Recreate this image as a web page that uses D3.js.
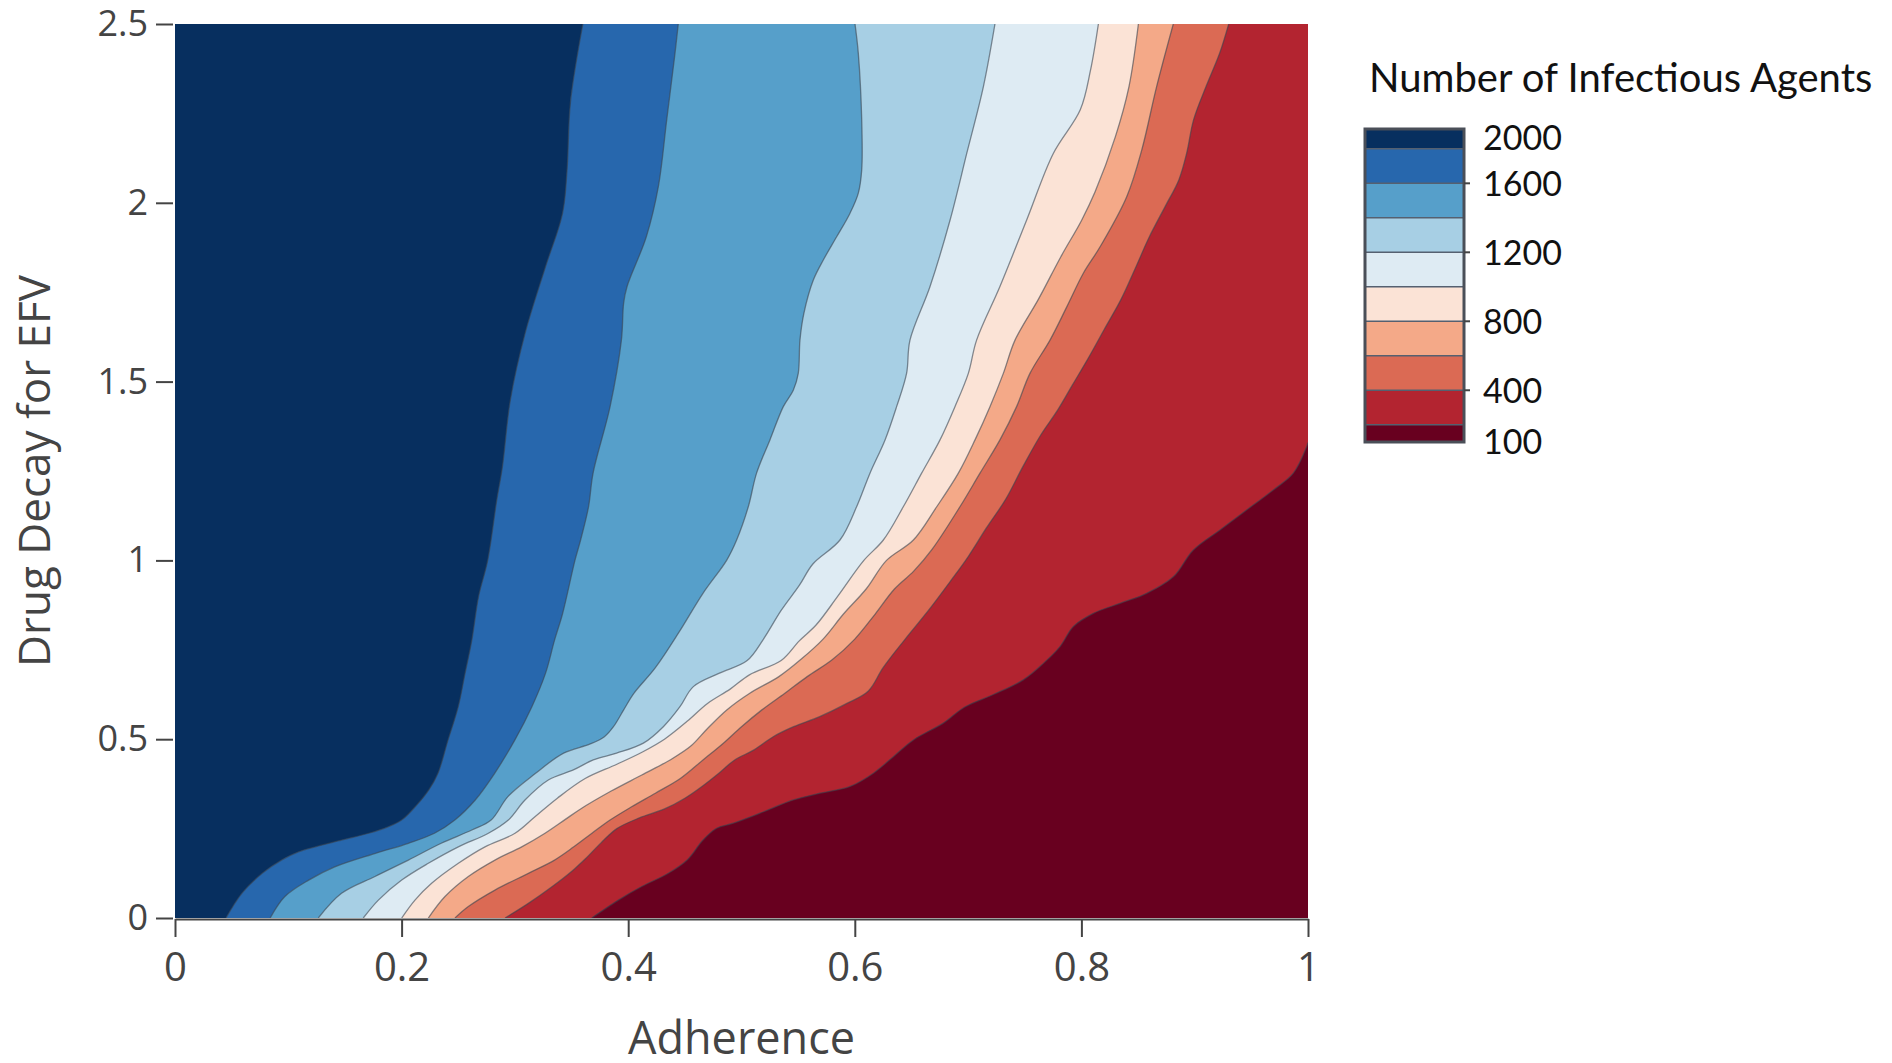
<!DOCTYPE html>
<html>
<head>
<meta charset="utf-8">
<title>Number of Infectious Agents</title>
<script src="https://cdn.jsdelivr.net/npm/d3@7/dist/d3.min.js"></script>
<style>
  body { margin: 0; background: #fff; }
  svg { display: block; }
</style>
</head>
<body>
<svg id="chart" width="1892" height="1063"></svg>
<script>
// Contour levels (number of infectious agents), highest first
const levels = [1800, 1600, 1400, 1200, 1000, 800, 600, 400, 200];

// Band colours: the band above the highest level first, then the band below each level
const bandColors = ['#072f5f', '#2767ad', '#569fca', '#a7cfe4', '#deebf3',
                    '#fbe3d6', '#f4a988', '#db6a54', '#b32430', '#68001f'];

// Each contour traced as [adherence, drug decay] points, from the bottom edge upward
const contour1800 = [[0.045,0],[0.059,0.069],[0.077,0.125],[0.094,0.162],[0.109,0.185],[0.124,0.199],[0.147,0.218],[0.171,0.237],[0.188,0.255],[0.200,0.274],[0.212,0.311],[0.224,0.358],[0.232,0.404],[0.241,0.498],[0.250,0.591],[0.256,0.684],[0.262,0.777],[0.268,0.90],[0.276,1.0],[0.284,1.169],[0.289,1.262],[0.296,1.449],[0.309,1.635],[0.327,1.821],[0.342,1.97],[0.346,2.09],[0.349,2.28],[0.360,2.5]];
const contour1600 = [[0.084,0],[0.097,0.060],[0.118,0.106],[0.141,0.143],[0.177,0.181],[0.206,0.209],[0.229,0.237],[0.247,0.274],[0.265,0.330],[0.282,0.404],[0.300,0.498],[0.315,0.591],[0.327,0.684],[0.335,0.777],[0.342,0.85],[0.353,1.0],[0.358,1.057],[0.365,1.15],[0.369,1.244],[0.384,1.43],[0.394,1.616],[0.396,1.72],[0.399,1.766],[0.416,1.905],[0.4266,2.045],[0.434,2.232],[0.4413,2.418],[0.4442,2.5]];
const contour1400 = [[0.1265,0],[0.147,0.069],[0.1765,0.116],[0.206,0.162],[0.235,0.209],[0.262,0.246],[0.279,0.274],[0.294,0.34],[0.318,0.404],[0.343,0.461],[0.366,0.486],[0.379,0.507],[0.387,0.535],[0.396,0.582],[0.405,0.628],[0.424,0.70],[0.445,0.8],[0.466,0.908],[0.487,1.001],[0.4957,1.057],[0.506,1.15],[0.5133,1.244],[0.5251,1.337],[0.5369,1.43],[0.5457,1.476],[0.5501,1.523],[0.5516,1.616],[0.555,1.69],[0.5634,1.784],[0.5722,1.84],[0.584,1.905],[0.5958,1.971],[0.6031,2.027],[0.6061,2.092],[0.6061,2.232],[0.6031,2.418],[0.6002,2.5]];
const contour1200 = [[0.1662,0],[0.1795,0.050],[0.2001,0.106],[0.2236,0.153],[0.2501,0.199],[0.2766,0.237],[0.2942,0.274],[0.3089,0.330],[0.3295,0.386],[0.3516,0.414],[0.3692,0.442],[0.3898,0.461],[0.4134,0.489],[0.431,0.535],[0.4457,0.591],[0.4575,0.647],[0.48,0.684],[0.505,0.72],[0.519,0.778],[0.535,0.86],[0.551,0.93],[0.563,0.99],[0.5869,1.057],[0.6016,1.15],[0.6134,1.244],[0.6267,1.337],[0.6369,1.43],[0.6457,1.523],[0.6487,1.616],[0.6664,1.766],[0.6841,1.952],[0.6988,2.138],[0.7135,2.325],[0.7237,2.5]];
const contour1000 = [[0.2001,0],[0.2118,0.05],[0.2265,0.097],[0.2501,0.153],[0.2736,0.199],[0.3001,0.237],[0.3177,0.283],[0.3375,0.335],[0.362,0.39],[0.39,0.43],[0.413,0.465],[0.432,0.5],[0.452,0.55],[0.47,0.6],[0.49,0.64],[0.507,0.68],[0.535,0.72],[0.551,0.775],[0.566,0.82],[0.585,0.9],[0.608,1.0],[0.6252,1.057],[0.6428,1.15],[0.659,1.244],[0.6752,1.337],[0.6884,1.43],[0.7002,1.523],[0.7075,1.616],[0.7281,1.766],[0.7517,1.952],[0.7752,2.138],[0.799,2.26],[0.808,2.37],[0.815,2.5]];
const contour800 = [[0.2236,0],[0.2383,0.06],[0.2589,0.116],[0.2824,0.162],[0.306,0.199],[0.3266,0.237],[0.3442,0.275],[0.358,0.305],[0.385,0.355],[0.412,0.4],[0.437,0.442],[0.455,0.48],[0.47,0.53],[0.487,0.582],[0.507,0.628],[0.533,0.675],[0.552,0.722],[0.572,0.78],[0.59,0.85],[0.61,0.92],[0.628,1.0],[0.6517,1.057],[0.6723,1.15],[0.6914,1.244],[0.7061,1.337],[0.7193,1.43],[0.7311,1.523],[0.7414,1.616],[0.762,1.73],[0.782,1.85],[0.80,1.95],[0.812,2.03],[0.83,2.185],[0.842,2.325],[0.8503,2.5]];
const contour600 = [[0.2471,0],[0.2589,0.032],[0.2824,0.078],[0.3119,0.125],[0.335,0.162],[0.352,0.199],[0.368,0.237],[0.384,0.274],[0.403,0.311],[0.424,0.349],[0.446,0.39],[0.466,0.442],[0.484,0.489],[0.5,0.535],[0.518,0.582],[0.538,0.628],[0.558,0.675],[0.58,0.722],[0.6,0.78],[0.618,0.85],[0.635,0.92],[0.652,0.97],[0.668,1.03],[0.6928,1.15],[0.7105,1.244],[0.7281,1.337],[0.7428,1.43],[0.7546,1.523],[0.7723,1.616],[0.7871,1.709],[0.8017,1.803],[0.8165,1.877],[0.84,2.017],[0.8533,2.148],[0.8664,2.325],[0.8811,2.5]];
const contour400 = [[0.2913,0],[0.3119,0.041],[0.333,0.088],[0.35,0.13],[0.362,0.165],[0.376,0.21],[0.39,0.25],[0.41,0.28],[0.432,0.305],[0.45,0.335],[0.466,0.37],[0.48,0.405],[0.494,0.442],[0.511,0.47],[0.528,0.507],[0.546,0.535],[0.569,0.563],[0.593,0.6],[0.612,0.635],[0.625,0.7],[0.644,0.778],[0.665,0.86],[0.684,0.94],[0.7,1.01],[0.716,1.09],[0.733,1.17],[0.748,1.26],[0.764,1.35],[0.779,1.42],[0.792,1.49],[0.806,1.565],[0.82,1.645],[0.835,1.73],[0.848,1.82],[0.86,1.905],[0.874,1.99],[0.886,2.064],[0.893,2.14],[0.899,2.232],[0.91,2.325],[0.922,2.418],[0.93,2.5]];
const contour200 = [[0.3678,0],[0.3913,0.05],[0.4119,0.088],[0.4354,0.125],[0.452,0.162],[0.466,0.218],[0.478,0.251],[0.4927,0.265],[0.5163,0.293],[0.5457,0.33],[0.5692,0.349],[0.5958,0.368],[0.6164,0.405],[0.634,0.451],[0.6517,0.498],[0.6781,0.545],[0.697,0.59],[0.7223,0.625],[0.7487,0.666],[0.7664,0.712],[0.7811,0.759],[0.7929,0.815],[0.8105,0.852],[0.8341,0.88],[0.8576,0.908],[0.8811,0.954],[0.8988,1.029],[0.9223,1.085],[0.9458,1.141],[0.9694,1.197],[0.987,1.244],[0.9988,1.318],[1.0,1.33]];

const contours = [contour1800, contour1600, contour1400, contour1200, contour1000,
                  contour800, contour600, contour400, contour200];

// Axis ticks and colour bar labels
const xTicks = [0, 0.2, 0.4, 0.6, 0.8, 1];
const yTicks = [0, 0.5, 1, 1.5, 2, 2.5];
const legendLabels = [2000, 1600, 1200, 800, 400, 100];
const legendRange = [100, 1915];

const svg = d3.select('#chart');
const axisFont = '"Open Sans", "DejaVu Sans", sans-serif';
const legendFont = 'Lato, "Open Sans", sans-serif';

const x = d3.scaleLinear().domain([0, 1]).range([175, 1308]);
const y = d3.scaleLinear().domain([0, 2.5]).range([918, 24]);

// Plot area clip
svg.append('defs').append('clipPath').attr('id', 'plot-clip')
  .append('rect')
  .attr('x', x(0)).attr('y', y(2.5))
  .attr('width', x(1) - x(0)).attr('height', y(0) - y(2.5));

const plot = svg.append('g').attr('clip-path', 'url(#plot-clip)');

// Highest band fills the whole area first
plot.append('rect')
  .attr('x', x(0)).attr('y', y(2.5))
  .attr('width', x(1) - x(0)).attr('height', y(0) - y(2.5))
  .attr('fill', bandColors[0]);

const curve = d3.line()
  .x(d => x(d[0]))
  .y(d => y(d[1]))
  .curve(d3.curveCatmullRom.alpha(0.5));

// Region below a level: the contour, then round the lower-right corner of the plot
function regionPath(pts) {
  const last = pts[pts.length - 1];
  const tail = [];
  if (last[1] >= 2.5) tail.push([1, 2.5]);
  tail.push([1, 0]);
  return curve(pts) + tail.map(p => `L${x(p[0])},${y(p[1])}`).join('') + 'Z';
}

plot.selectAll('path.band')
  .data(contours)
  .join('path')
  .attr('class', 'band')
  .attr('d', regionPath)
  .attr('fill', (d, i) => bandColors[i + 1]);

plot.selectAll('path.contour-line')
  .data(contours)
  .join('path')
  .attr('class', 'contour-line')
  .attr('d', curve)
  .attr('fill', 'none')
  .attr('stroke', '#3a4450')
  .attr('stroke-opacity', 0.6)
  .attr('stroke-width', 1.3);

// Axes
const xAxis = svg.append('g')
  .attr('transform', `translate(0,${y(0) + 1})`)
  .call(d3.axisBottom(x).tickValues(xTicks).tickFormat(d3.format('~g'))
        .tickSize(18).tickSizeOuter(0).tickPadding(16));
xAxis.select('.domain').attr('stroke', '#444').attr('stroke-width', 2);
xAxis.selectAll('.tick line').attr('stroke', '#444').attr('stroke-width', 2);
xAxis.selectAll('.tick text')
  .attr('fill', '#444').style('font-family', axisFont).style('font-size', '40px');

const yAxis = svg.append('g')
  .attr('transform', `translate(${x(0) - 2},0)`)
  .call(d3.axisLeft(y).tickValues(yTicks).tickFormat(d3.format('~g'))
        .tickSize(17).tickPadding(8));
yAxis.select('.domain').remove();
yAxis.selectAll('.tick line').attr('stroke', '#444').attr('stroke-width', 2);
yAxis.selectAll('.tick text')
  .attr('fill', '#444').style('font-family', axisFont).style('font-size', '36px');

// Axis titles
svg.append('text')
  .attr('x', (x(0) + x(1)) / 2).attr('y', 1054)
  .attr('text-anchor', 'middle')
  .attr('fill', '#444')
  .style('font-family', axisFont).style('font-size', '45px')
  .text('Adherence');

svg.append('text')
  .attr('transform', `translate(50,${(y(0) + y(2.5)) / 2}) rotate(-90)`)
  .attr('text-anchor', 'middle')
  .attr('fill', '#444')
  .style('font-family', axisFont).style('font-size', '44px')
  .text('Drug Decay for EFV');

// Colour bar
const cb = svg.append('g');
const cbX = 1365, cbW = 99;
const cbY = d3.scaleLinear().domain(legendRange).range([442, 129]);
const edges = [legendRange[0], ...levels.slice().reverse(), legendRange[1]];
const cbBands = d3.range(edges.length - 1).map(i => ({
  lo: edges[i], hi: edges[i + 1], color: bandColors[bandColors.length - 1 - i]
}));

cb.selectAll('rect.cb-band')
  .data(cbBands)
  .join('rect')
  .attr('class', 'cb-band')
  .attr('x', cbX).attr('width', cbW)
  .attr('y', d => cbY(d.hi)).attr('height', d => cbY(d.lo) - cbY(d.hi))
  .attr('fill', d => d.color);

cb.selectAll('line.cb-sep')
  .data(levels)
  .join('line')
  .attr('class', 'cb-sep')
  .attr('x1', cbX).attr('x2', cbX + cbW)
  .attr('y1', d => cbY(d)).attr('y2', d => cbY(d))
  .attr('stroke', '#556070').attr('stroke-width', 1.5);

cb.append('rect')
  .attr('x', cbX).attr('y', cbY(legendRange[1]))
  .attr('width', cbW).attr('height', cbY(legendRange[0]) - cbY(legendRange[1]))
  .attr('fill', 'none').attr('stroke', '#4a4f58').attr('stroke-width', 3);

cb.selectAll('line.cb-tick')
  .data(legendLabels.filter(v => v > legendRange[0] && v < legendRange[1]))
  .join('line')
  .attr('class', 'cb-tick')
  .attr('x1', cbX + cbW).attr('x2', cbX + cbW + 6)
  .attr('y1', d => cbY(d)).attr('y2', d => cbY(d))
  .attr('stroke', '#444').attr('stroke-width', 2);

cb.selectAll('text.cb-label')
  .data(legendLabels)
  .join('text')
  .attr('class', 'cb-label')
  .attr('x', 1483)
  .attr('y', d => Math.max(138, Math.min(442, cbY(d))))
  .attr('dy', '0.36em')
  .attr('fill', '#111')
  .style('font-family', legendFont).style('font-size', '34px')
  .text(d => d);

svg.append('text')
  .attr('x', 1369).attr('y', 92)
  .attr('fill', '#111')
  .style('font-family', legendFont).style('font-size', '40px')
  .text('Number of Infectious Agents');
</script>
</body>
</html>
